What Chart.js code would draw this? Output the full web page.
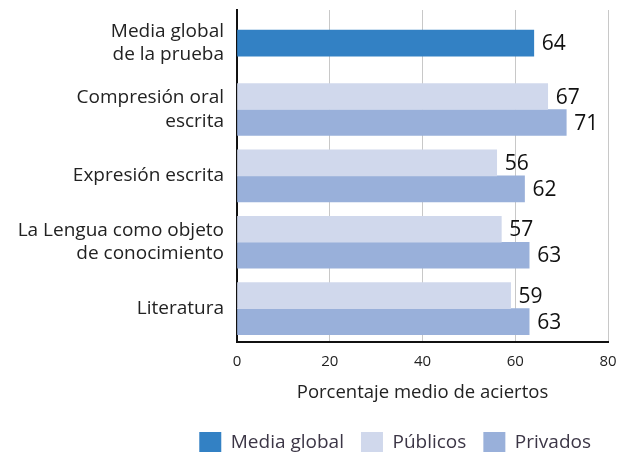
<!DOCTYPE html>
<html>
<head>
<meta charset="utf-8">
<script src="https://cdn.jsdelivr.net/npm/chart.js@4"></script>
<style>
  html, body { margin: 0; padding: 0; background: #fff; }
  #wrap { width: 630px; height: 452px; }
</style>
</head>
<body>
<div id="wrap"><canvas id="grafico"></canvas></div>
<script>
// Datos
const categorias = [
  ['Media global', 'de la prueba'],
  ['Compresión oral', 'escrita'],
  'Expresión escrita',
  ['La Lengua como objeto', 'de conocimiento'],
  'Literatura'
];
const mediaGlobal = [64, null, null, null, null];
const publicos = [null, 67, 56, 57, 59];
const privados = [null, 71, 62, 63, 63];
const ticksX = [0, 20, 40, 60, 80];

const fuente = '"Open Sans", Lato, sans-serif';

// Etiquetas de valor al final de cada barra
const etiquetasValor = {
  id: 'etiquetasValor',
  afterDatasetsDraw(chart) {
    const ctx = chart.ctx;
    ctx.save();
    ctx.font = '21px ' + fuente;
    ctx.fillStyle = '#111';
    ctx.textAlign = 'left';
    ctx.textBaseline = 'middle';
    chart.data.datasets.forEach((ds, i) => {
      chart.getDatasetMeta(i).data.forEach((bar, j) => {
        if (ds.data[j] == null) return;
        ctx.fillText(ds.data[j], bar.x + 8, bar.y + 1);
      });
    });
    ctx.restore();
  }
};

new Chart(document.getElementById('grafico'), {
  type: 'bar',
  data: {
    labels: categorias,
    datasets: [
      { label: 'Media global', data: mediaGlobal, backgroundColor: '#3381c4' },
      { label: 'Públicos', data: publicos, backgroundColor: '#d0d8ec' },
      { label: 'Privados', data: privados, backgroundColor: '#99b0da' }
    ]
  },
  options: {
    indexAxis: 'y',
    responsive: true,
    maintainAspectRatio: false,
    animation: false,
    skipNull: true,
    barThickness: 26,
    layout: { padding: { top: 10, right: 22, left: 0, bottom: -12 } },
    scales: {
      x: {
        min: 0,
        max: 80,
        afterBuildTicks: s => { s.ticks = ticksX.map(v => ({ value: v })); },
        grid: { color: '#c8c8c8', drawTicks: false },
        border: { color: '#111', width: 2 },
        ticks: { color: '#222', font: { family: fuente, size: 15 }, padding: 11 },
        title: {
          display: true,
          text: 'Porcentaje medio de aciertos',
          color: '#222',
          font: { family: fuente, size: 18.5 },
          padding: { top: 0, bottom: 11 }
        }
      },
      y: {
        grid: { display: false, drawTicks: false },
        border: { color: '#111', width: 2 },
        afterFit: s => { s.width = 237; s.paddingTop = 0; s.paddingBottom = 0; },
        ticks: {
          color: '#222',
          font: { family: fuente, size: 19, lineHeight: 1.22 },
          padding: 13
        }
      }
    },
    plugins: {
      legend: {
        position: 'bottom',
        align: 'end',
        labels: {
          color: '#3c3646',
          font: { family: fuente, size: 19 },
          boxWidth: 22,
          boxHeight: 22,
          padding: 17
        }
      },
      tooltip: { enabled: false }
    }
  },
  plugins: [etiquetasValor]
});
</script>
</body>
</html>
